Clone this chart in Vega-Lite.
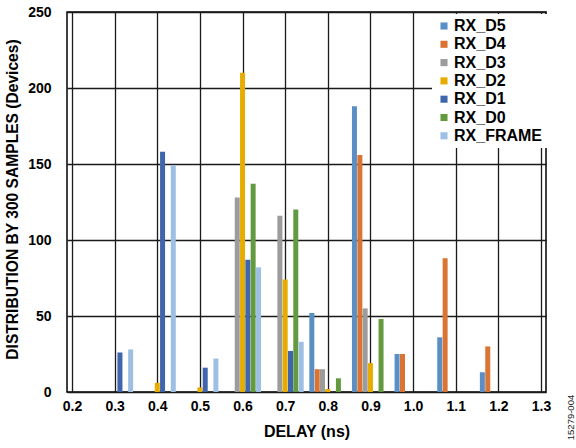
{
  "$schema": "https://vega.github.io/schema/vega-lite/v6.json",
  "width": 479,
  "height": 380,
  "autosize": "none",
  "padding": {"left": 67, "top": 12, "right": 30, "bottom": 56},
  "background": "white",
  "config": {
    "font": "Liberation Sans",
    "view": {"stroke": "#000", "strokeWidth": 1.5},
    "axis": {
      "labelFont": "Liberation Sans", "labelFontWeight": "bold", "labelFontSize": 14, "labelColor": "#000",
      "titleFont": "Liberation Sans", "titleFontWeight": "bold", "titleFontSize": 16, "titleColor": "#000",
      "ticks": false, "domain": false, "gridColor": "#1a1a1a", "gridWidth": 1.3, "gridOpacity": 1
    },
    "legend": {
      "labelFont": "Liberation Sans", "labelFontWeight": "bold", "labelFontSize": 16, "labelColor": "#000"
    }
  },
  "data": {"values": [
    {"delay": 0.3, "series": "RX_D1", "count": 26},
    {"delay": 0.3, "series": "RX_FRAME", "count": 28},
    {"delay": 0.4, "series": "RX_D2", "count": 6},
    {"delay": 0.4, "series": "RX_D1", "count": 158},
    {"delay": 0.4, "series": "RX_FRAME", "count": 149},
    {"delay": 0.5, "series": "RX_D2", "count": 3},
    {"delay": 0.5, "series": "RX_D1", "count": 16},
    {"delay": 0.5, "series": "RX_FRAME", "count": 22},
    {"delay": 0.6, "series": "RX_D3", "count": 128},
    {"delay": 0.6, "series": "RX_D2", "count": 210},
    {"delay": 0.6, "series": "RX_D1", "count": 87},
    {"delay": 0.6, "series": "RX_D0", "count": 137},
    {"delay": 0.6, "series": "RX_FRAME", "count": 82},
    {"delay": 0.7, "series": "RX_D3", "count": 116},
    {"delay": 0.7, "series": "RX_D2", "count": 74},
    {"delay": 0.7, "series": "RX_D1", "count": 27},
    {"delay": 0.7, "series": "RX_D0", "count": 120},
    {"delay": 0.7, "series": "RX_FRAME", "count": 33},
    {"delay": 0.8, "series": "RX_D5", "count": 52},
    {"delay": 0.8, "series": "RX_D4", "count": 15},
    {"delay": 0.8, "series": "RX_D3", "count": 15},
    {"delay": 0.8, "series": "RX_D2", "count": 2},
    {"delay": 0.8, "series": "RX_D0", "count": 9},
    {"delay": 0.9, "series": "RX_D5", "count": 188},
    {"delay": 0.9, "series": "RX_D4", "count": 156},
    {"delay": 0.9, "series": "RX_D3", "count": 55},
    {"delay": 0.9, "series": "RX_D2", "count": 19},
    {"delay": 0.9, "series": "RX_D0", "count": 48},
    {"delay": 1.0, "series": "RX_D5", "count": 25},
    {"delay": 1.0, "series": "RX_D4", "count": 25},
    {"delay": 1.1, "series": "RX_D5", "count": 36},
    {"delay": 1.1, "series": "RX_D4", "count": 88},
    {"delay": 1.2, "series": "RX_D5", "count": 13},
    {"delay": 1.2, "series": "RX_D4", "count": 30}
  ]},
  "encoding": {
    "x": {
      "field": "delay", "type": "quantitative",
      "scale": {"domain": [0.2, 1.3], "nice": false, "zero": false},
      "axis": {"values": [0.2,0.3,0.4,0.5,0.6,0.7,0.8,0.9,1.0,1.1,1.2,1.3], "format": ".1f", "title": "DELAY (ns)", "labelPadding": 7, "titlePadding": 10, "labelFlush": false}
    },
    "color": {
      "field": "series", "type": "nominal",
      "scale": {
        "domain": ["RX_D5","RX_D4","RX_D3","RX_D2","RX_D1","RX_D0","RX_FRAME"],
        "range": ["#5a8fc6","#d97432","#9c9c9c","#e6ad00","#3f65ad","#649a3f","#9dbfe3"]
      },
      "legend": {
        "title": null, "orient": "none", "legendX": 365, "legendY": 2,
        "fillColor": "white", "padding": 4, "symbolType": "square", "symbolSize": 50,
        "symbolStrokeWidth": 0, "rowPadding": 2.3, "labelOffset": 2
      }
    }
  },
  "layer": [
    {
      "transform": [{"filter": "datum.series === 'RX_D5'"}],
      "mark": {"type": "bar", "width": 5, "xOffset": -16},
      "encoding": {"y": {"field": "count", "type": "quantitative", "scale": {"domain": [0, 250], "nice": false},
        "axis": {"values": [0,50,100,150,200,250], "title": "DISTRIBUTION BY 300 SAMPLES (Devices)", "titleFontSize": 15.6, "labelPadding": 16, "titleX": -55, "titleY": 187, "titleAlign": "center", "titleBaseline": "middle", "labelFlush": false}}}
    },
    {
      "transform": [{"filter": "datum.series === 'RX_D4'"}],
      "mark": {"type": "bar", "width": 5, "xOffset": -10.6},
      "encoding": {"y": {"field": "count", "type": "quantitative", "axis": null}}
    },
    {
      "transform": [{"filter": "datum.series === 'RX_D3'"}],
      "mark": {"type": "bar", "width": 5, "xOffset": -5.3},
      "encoding": {"y": {"field": "count", "type": "quantitative", "axis": null}}
    },
    {
      "transform": [{"filter": "datum.series === 'RX_D2'"}],
      "mark": {"type": "bar", "width": 5, "xOffset": 0},
      "encoding": {"y": {"field": "count", "type": "quantitative", "axis": null}}
    },
    {
      "transform": [{"filter": "datum.series === 'RX_D1'"}],
      "mark": {"type": "bar", "width": 5, "xOffset": 5.3},
      "encoding": {"y": {"field": "count", "type": "quantitative", "axis": null}}
    },
    {
      "transform": [{"filter": "datum.series === 'RX_D0'"}],
      "mark": {"type": "bar", "width": 5, "xOffset": 10.6},
      "encoding": {"y": {"field": "count", "type": "quantitative", "axis": null}}
    },
    {
      "transform": [{"filter": "datum.series === 'RX_FRAME'"}],
      "mark": {"type": "bar", "width": 5, "xOffset": 16},
      "encoding": {"y": {"field": "count", "type": "quantitative",
        "axis": {"orient": "right", "labels": false, "grid": false, "title": "15279-004", "titleFontSize": 9.5, "titleFontWeight": "normal", "titleColor": "#222", "titleAngle": -90, "titleX": 24, "titleY": 405, "titleAlign": "center", "titleBaseline": "middle"}}}
    }
  ],
  "resolve": {"axis": {"y": "independent"}}
}
